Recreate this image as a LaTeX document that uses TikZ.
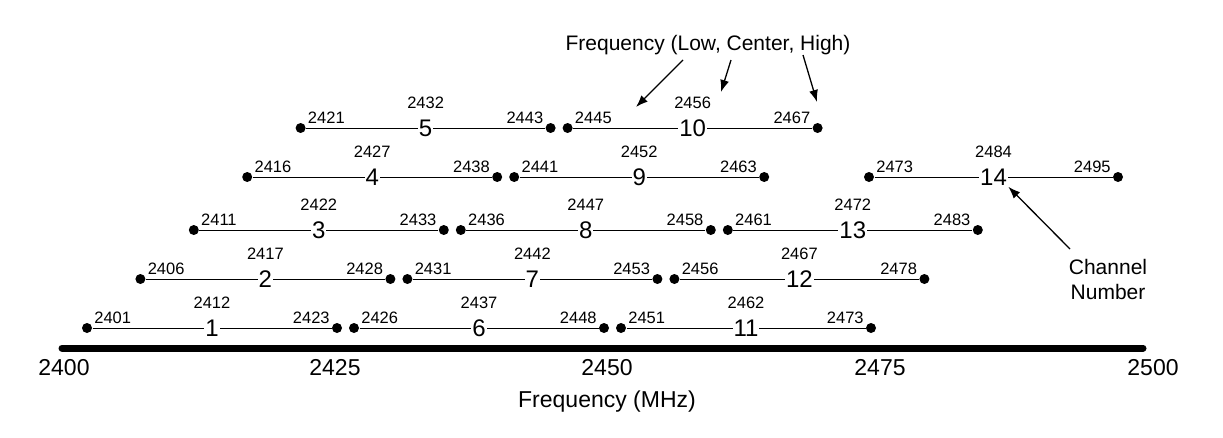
\documentclass[tikz,border=0pt]{standalone}
\usepackage{fontspec}
\setmainfont{Liberation Sans}
\usetikzlibrary{positioning,arrows.meta}
\tikzset{
  dot/.style={circle,fill,inner sep=0pt,minimum size=10pt},
  freq/.style={font=\fontsize{16.5}{18}\selectfont,inner sep=1pt},
  chlabel/.style={fill=white,inner sep=1pt,font=\fontsize{24}{26}\selectfont},
  axlabel/.style={font=\fontsize{23}{25}\selectfont},
  note/.style={font=\fontsize{21}{25}\selectfont,align=center},
  pointer/.style={-{Latex[length=12pt,width=9pt]},line width=1.3pt}
}
\begin{document}
\begin{tikzpicture}[x=1pt,y=-1pt,line width=1pt]
  \useasboundingbox (0,0) rectangle (1223,437);
  % frequency axis
  \coordinate (a0) at (62,348);
  \coordinate (a1) at (1143,348);
  \draw[line width=7pt,line cap=round] (a0) -- (a1);
  \foreach \f/\x in {2400/64,2425/335,2450/607,2475/880,2500/1153}
    \node[axlabel] (t\f) at (\x,368) {\f};
  \node[axlabel] (axname) at (607,402) {Frequency (MHz)};
  % channels 1 to 13
  \foreach \n/\y/\lo in {1/328/2401,2/279/2406,3/230/2411,4/177/2416,5/128/2421,6/328/2426,7/279/2431,8/230/2436,9/177/2441,10/128/2445,11/328/2451,12/279/2456,13/230/2461}{
    \pgfmathtruncatemacro{\mid}{\lo+11}
    \pgfmathtruncatemacro{\hi}{\lo+22}
    \pgfmathsetmacro{\xl}{87+(\n-1)*53.4}
    \node[dot] (lo\n) at (\xl,\y) {};
    \node[dot] (hi\n) at (\xl+250,\y) {};
    \draw (lo\n) -- node[chlabel] (ch\n) {\n} (hi\n);
    \node[freq,anchor=south west] at ([xshift=2pt,yshift=-1pt]lo\n.north east) {\lo};
    \node[freq,anchor=south east] at ([xshift=-2pt,yshift=-1pt]hi\n.north west) {\hi};
    \node[freq] (mid\n) at (\xl+125,\y-25) {\mid};
  }
  % channel 14
  \node[dot] (lo14) at (869,177) {};
  \node[dot] (hi14) at (1118,177) {};
  \draw (lo14) -- node[chlabel] (ch14) {14} (hi14);
  \node[freq,anchor=south west] at ([xshift=2pt,yshift=-1pt]lo14.north east) {2473};
  \node[freq,anchor=south east] at ([xshift=-2pt,yshift=-1pt]hi14.north west) {2495};
  \node[freq] (mid14) at (993.5,152) {2484};
  % annotations
  \node[note] (fnote) at (708,45) {Frequency (Low, Center, High)};
  \coordinate (f1) at (636,107);
  \coordinate (f2) at (721,92);
  \coordinate (f3) at (817,102);
  \draw[pointer] (683,60) -- (f1);
  \draw[pointer] (731,60) -- (f2);
  \draw[pointer] (803,55) -- (f3);
  \node[note] (cnote) at (1108,279) {Channel\\Number};
  \draw[pointer] (1070,249) -- (ch14.south east);
\end{tikzpicture}
\end{document}
